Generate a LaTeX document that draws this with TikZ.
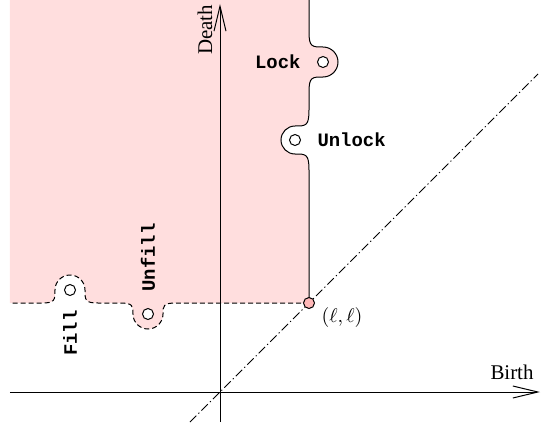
\documentclass[tikz,border=0pt]{standalone}
\usepackage{fontspec}
\setmainfont{Liberation Serif}
\setmonofont{Liberation Mono}
\usetikzlibrary{arrows.meta,positioning}

\definecolor{regionpink}{RGB}{255,222,222}
\definecolor{pointpink}{RGB}{255,184,184}

% right side of the region, with the Lock tab and the Unlock notch
\newcommand{\lockedge}{(89,392) -- (89,360)
  .. controls (89,345) and (92,345) .. (103,345)
  arc[start angle=90,end angle=-90,radius=15]
  .. controls (92,315) and (89,315) .. (89,300) -- (89,282)
  .. controls (89,266) and (86,266) .. (75,266)
  arc[start angle=90,end angle=270,radius=14]
  .. controls (86,238) and (89,238) .. (89,222) -- (89,89)}
% lower side of the region, with the Unfill tab and the Fill notch
\newcommand{\filledge}{(89,89) -- (-44,89)
  .. controls (-57,89) and (-57,86) .. (-57,78)
  arc[start angle=0,end angle=-180,radius=15]
  .. controls (-87,86) and (-87,89) .. (-100,89) -- (-122,89)
  .. controls (-135,89) and (-135,92) .. (-135,102)
  arc[start angle=0,end angle=180,radius=15]
  .. controls (-165,92) and (-165,89) .. (-178,89) -- (-210,89)}

\begin{document}
\begin{tikzpicture}[
  x=1bp, y=1bp,
  line width=1bp,
  hole/.style={circle, draw, fill=white, minimum size=11bp, inner sep=0pt},
  corner/.style={hole, fill=pointpink},
  action/.style={font=\ttfamily\bfseries\fontsize{19}{22}\selectfont, inner sep=1bp},
  axislabel/.style={font=\fontsize{21}{24}\selectfont, inner sep=1bp},
  axis/.style={-{Straight Barb[length=25bp,width=12bp]}},
  diagonal/.style={dash pattern=on 9bp off 3bp on 1.2bp off 3bp},
  boundary/.style={dash pattern=on 5bp off 3bp}
]
\useasboundingbox (-220,-34) rectangle (321,392);

% the region
\fill[regionpink] (-210,392) -- \lockedge -- \filledge -- cycle;
\draw \lockedge;
\draw[boundary] \filledge;

% axes and diagonal
\coordinate (o) at (0,0);
\coordinate (xstart) at (-210,0);
\coordinate (xend) at (320,0);
\coordinate (ystart) at (0,-30);
\coordinate (yend) at (0,388);
\coordinate (dstart) at (-30,-30);
\coordinate (dend) at (318,318);
\draw[diagonal] (dstart) -- (dend);
\draw[axis] (xstart) -- (xend);
\draw[axis] (ystart) -- (yend);
\node[axislabel] (birth) at (292,20) {Birth};
\node[axislabel, rotate=90] (death) at (-15,362) {Death};

% events
\node[hole] (lock) at (103,330) {};
\node[hole] (unlock) at (75,252) {};
\node[hole] (fill) at (-150,102) {};
\node[hole] (unfill) at (-72,78) {};
\node[corner] (ll) at (89,89) {};

\node[action, left=15bp of lock] (locklabel) {Lock};
\node[action, right=15bp of unlock] (unlocklabel) {Unlock};
\node[action, rotate=90, anchor=east] (filllabel) at ([yshift=-13bp]fill.south) {Fill};
\node[action, rotate=90, anchor=west] (unfilllabel) at ([yshift=15bp]unfill.north) {Unfill};
\node[scale=2, inner sep=0.5bp] (lllabel) at (122,74) {$(\ell,\ell)$};
\end{tikzpicture}
\end{document}
